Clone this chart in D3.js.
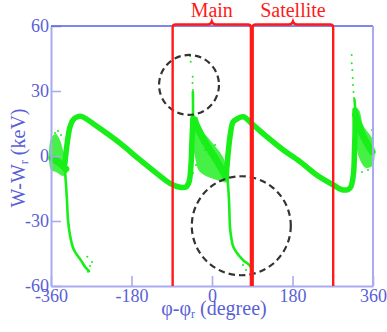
<!DOCTYPE html>
<html><head><meta charset="utf-8">
<script src="https://cdn.jsdelivr.net/npm/d3@7"></script>
<style>html,body{margin:0;padding:0;background:#fff;} svg{display:block;}</style>
</head><body><svg id="c" width="387" height="332"></svg>
<script>
// ---- tick values / labels ----
const xTicks = [-360, -180, 0, 180, 360];
const yTicks = [-60, -30, 0, 30, 60];
const xLabel = ["φ-φ", "r", "\u00a0(degree)"];
const yLabel = ["W-W", "r", "\u00a0(keV)"];

// ---- particle bands: [phi (deg), W-Wr (keV)] ----
const orbitLeft = [[-328.7,-3.2],[-324.3,5.1],[-317.6,13.4],[-310.8,16.6],[-301.9,18.0],[-290.7,18.2],[-261.6,14.3],[-235.5,10.5],[-205.7,5.9],[-161.0,-1.8],[-123.7,-8.0],[-93.9,-12.6],[-71.6,-14.4],[-58.1,-14.3],[-51.4,-12.0],[-47.0,-4.2],[-44.7,7.4],[-42.5,17.5]];
const spikeLeft = [[-42.5,17.5],[-42.5,25.8],[-42.8,29.5]];
const dropLeft = [[-328.7,-6.5],[-326.5,-13.4],[-324.3,-20.3],[-322.0,-29.5],[-317.6,-36.5],[-311.5,-41.9],[-306.3,-44.3],[-298.9,-46.5],[-290.6,-48.9],[-283.9,-51.1],[-275.0,-53.1]];

const orbitRight = [[31.3,-10.2],[34.7,-1.8],[38.0,5.1],[41.4,10.6],[47.0,15.7],[55.9,17.1],[70.0,18.1],[92.4,14.3],[122.3,8.9],[159.4,2.8],[196.8,-2.6],[234.1,-8.8],[271.2,-13.4],[293.6,-15.7],[308.6,-14.8],[316.0,-8.8],[318.6,2.8],[319.8,10.6],[319.8,21.2]];
const spikeRight = [[319.8,21.2],[319.8,22.8],[318.6,26.0]];
const dropRight = [[33.5,-7.4],[35.8,-13.4],[38.0,-20.3],[40.2,-32.6],[42.5,-36.9],[47.6,-41.9],[55.9,-44.8],[62.6,-46.5],[71.6,-48.5],[80.5,-49.8],[88.8,-51.8]];

// diffuse clouds (outline) and their dense cores
const cloudLeft = [[-360,8.3],[-348.8,10.2],[-340.0,7.4],[-333.2,2.8],[-326.5,-1.8],[-324.3,-7.4],[-333.2,-9.2],[-348.8,-7.4],[-360,-6.5]];
const cloudCentre = [[-47.0,16.6],[-33.5,18.0],[-26.8,12.9],[-4.5,7.4],[24.6,-0.5],[33.5,-6.5],[35.8,-12.0],[17.9,-11.5],[-26.8,-7.4],[-38.0,-0.5],[-44.7,7.4]];
const cloudRight = [[319.8,22.2],[328.7,21.2],[337.7,14.3],[353.3,9.7],[360,7.4],[360,-4.2],[344.4,-5.5],[331.0,-1.8],[322.0,5.1],[317.6,14.3]];
const coreLeft = [[-358,-1.0],[-342,-3.0],[-327,-6.0]];
const coreCentre = [[-40.2,16.6],[-20,8.0],[10,-2.0],[31.3,-9.7]];
const coreRight = [[321,19.0],[336,10.0],[358,2.0]];

// isolated particles
const strayPhi = [-49.2,-47.6,-43.2,-43.6,-42.5,312.4,312.4,313.7,314.6,315.3,316.4,317.5,-351.1,-344.4,-337.7,-357.8,-278.8,-277.3,-272.8,-268.3,76.0,85.0,69.3,-42.5,-35.8,-15.7,6.7,348.8,335.4,357.8];
const strayW   = [46.2,43.5,36.6,33.7,30.5,46.6,42.8,39.7,36.0,32.8,29.5,26.8,10.6,11.5,9.7,6.5,-46.5,-53.4,-50.8,-48.9,-52.6,-50.8,-50.3,-7.8,-4.2,2.8,5.1,-6.5,-7.4,12.0];

// annotations
const bracketNames = ["Main", "Satellite"];
const bracketFrom = [-88, 91];
const bracketTo = [87, 271];
const circlePhi = [-51.4, 65.5];
const circleW = [32.8, -32.2];
const circleRadiusDeg = [67, 110.7];

// ---- drawing ----
const svg = d3.select("#c");
const x = d3.scaleLinear().domain([-360, 360]).range([51, 373]);
const y = d3.scaleLinear().domain([-60, 60]).range([286, 26]);
const GREEN = "#18ee18", AX = "#a9aaf0", LAB = "#5a5fd6", RED = "#ff1a1a";
const FONT = "'Liberation Serif'";
const fmt = d => d < 0 ? "-" + Math.abs(d) : String(d);

const line = d3.line().x(d => x(d[0])).y(d => y(d[1])).curve(d3.curveCatmullRom);
const poly = d3.line().x(d => x(d[0])).y(d => y(d[1])).curve(d3.curveCatmullRomClosed);

const g = svg.append("g");
[cloudLeft, cloudCentre, cloudRight].forEach(c =>
  g.append("path").attr("d", poly(c)).attr("fill", GREEN).attr("fill-opacity", 0.8));
[coreLeft, coreCentre, coreRight].forEach(c =>
  g.append("path").attr("d", line(c)).attr("fill", "none").attr("stroke", GREEN)
   .attr("stroke-width", 7).attr("stroke-linecap", "round"));
[orbitLeft, orbitRight].forEach(c =>
  g.append("path").attr("d", line(c)).attr("fill", "none").attr("stroke", GREEN)
   .attr("stroke-width", 5.5).attr("stroke-linecap", "round").attr("stroke-linejoin", "round"));
[spikeLeft, spikeRight].forEach(c =>
  g.append("path").attr("d", line(c)).attr("fill", "none").attr("stroke", GREEN)
   .attr("stroke-width", 2.6).attr("stroke-linecap", "round"));
[dropLeft, dropRight].forEach(c =>
  g.append("path").attr("d", line(c)).attr("fill", "none").attr("stroke", GREEN)
   .attr("stroke-width", 2.6).attr("stroke-linecap", "round"));
g.selectAll("circle.p").data(strayPhi).join("circle").attr("class", "p")
  .attr("cx", d => x(d)).attr("cy", (d, i) => y(strayW[i])).attr("r", 1).attr("fill", GREEN);

// dashed circles
circlePhi.forEach((p, i) => {
  svg.append("circle").attr("cx", x(p)).attr("cy", y(circleW[i]))
    .attr("r", x(p + circleRadiusDeg[i]) - x(p))
    .attr("fill", "none").attr("stroke", "#333").attr("stroke-width", 2.2)
    .attr("stroke-dasharray", "6.5,4");
});

// axes
const gx = svg.append("g").attr("transform", `translate(0,${y(-60)})`)
  .call(d3.axisBottom(x).tickValues(xTicks).tickSize(-10).tickSizeOuter(0).tickPadding(3).tickFormat(fmt));
const gy = svg.append("g").attr("transform", `translate(${x(-360)},0)`)
  .call(d3.axisLeft(y).tickValues(yTicks).tickSize(-10).tickSizeOuter(0).tickPadding(2).tickFormat(fmt));
[gx, gy].forEach(a => {
  a.attr("font-family", null).attr("font-size", null);
  a.select(".domain").attr("stroke", AX).attr("stroke-width", 2);
  a.selectAll(".tick line").attr("stroke", AX).attr("stroke-width", 1.6);
  a.selectAll(".tick text").attr("fill", LAB).attr("font-size", 18).style("font-family", FONT);
});
svg.append("line").attr("x1", x(-360)).attr("x2", x(360)).attr("y1", y(60)).attr("y2", y(60))
  .attr("stroke", "#5a5ae8").attr("stroke-width", 1.3);
svg.append("line").attr("x1", x(360)).attr("x2", x(360)).attr("y1", y(60)).attr("y2", y(-60))
  .attr("stroke", AX).attr("stroke-width", 2);

// axis titles
const tx = svg.append("text").attr("x", 214).attr("y", 315).attr("text-anchor", "middle")
  .style("font-family", FONT).attr("font-size", 20).attr("fill", LAB);
tx.append("tspan").text(xLabel[0]);
tx.append("tspan").text(xLabel[1]).attr("font-size", 12).attr("dy", 3);
tx.append("tspan").text(xLabel[2]).attr("dy", -3);
const ty = svg.append("text").attr("transform", "translate(25,158) rotate(-90)").attr("text-anchor", "middle")
  .style("font-family", FONT).attr("font-size", 20).attr("fill", LAB);
ty.append("tspan").text(yLabel[0]);
ty.append("tspan").text(yLabel[1]).attr("font-size", 12).attr("dy", 3);
ty.append("tspan").text(yLabel[2]).attr("dy", -3);

// brackets
const yTop = y(60) - 1.5, yBot = y(-60), r = 3;
bracketNames.forEach((name, i) => {
  const a = x(bracketFrom[i]), b = x(bracketTo[i]), m = (a + b) / 2;
  const p = d3.path();
  p.moveTo(a, yBot); p.lineTo(a, yTop + r); p.quadraticCurveTo(a, yTop, a + r, yTop);
  p.lineTo(m - 4, yTop); p.quadraticCurveTo(m - 1, yTop, m, yTop - 3);
  p.quadraticCurveTo(m + 1, yTop, m + 4, yTop);
  p.lineTo(b - r, yTop); p.quadraticCurveTo(b, yTop, b, yTop + r); p.lineTo(b, yBot);
  svg.append("path").attr("d", p.toString()).attr("fill", "none").attr("stroke", RED).attr("stroke-width", 2.4);
  svg.append("text").attr("x", m).attr("y", 17).attr("text-anchor", "middle")
    .style("font-family", FONT).attr("font-size", 20).attr("fill", RED).text(name);
});
</script></body></html>
